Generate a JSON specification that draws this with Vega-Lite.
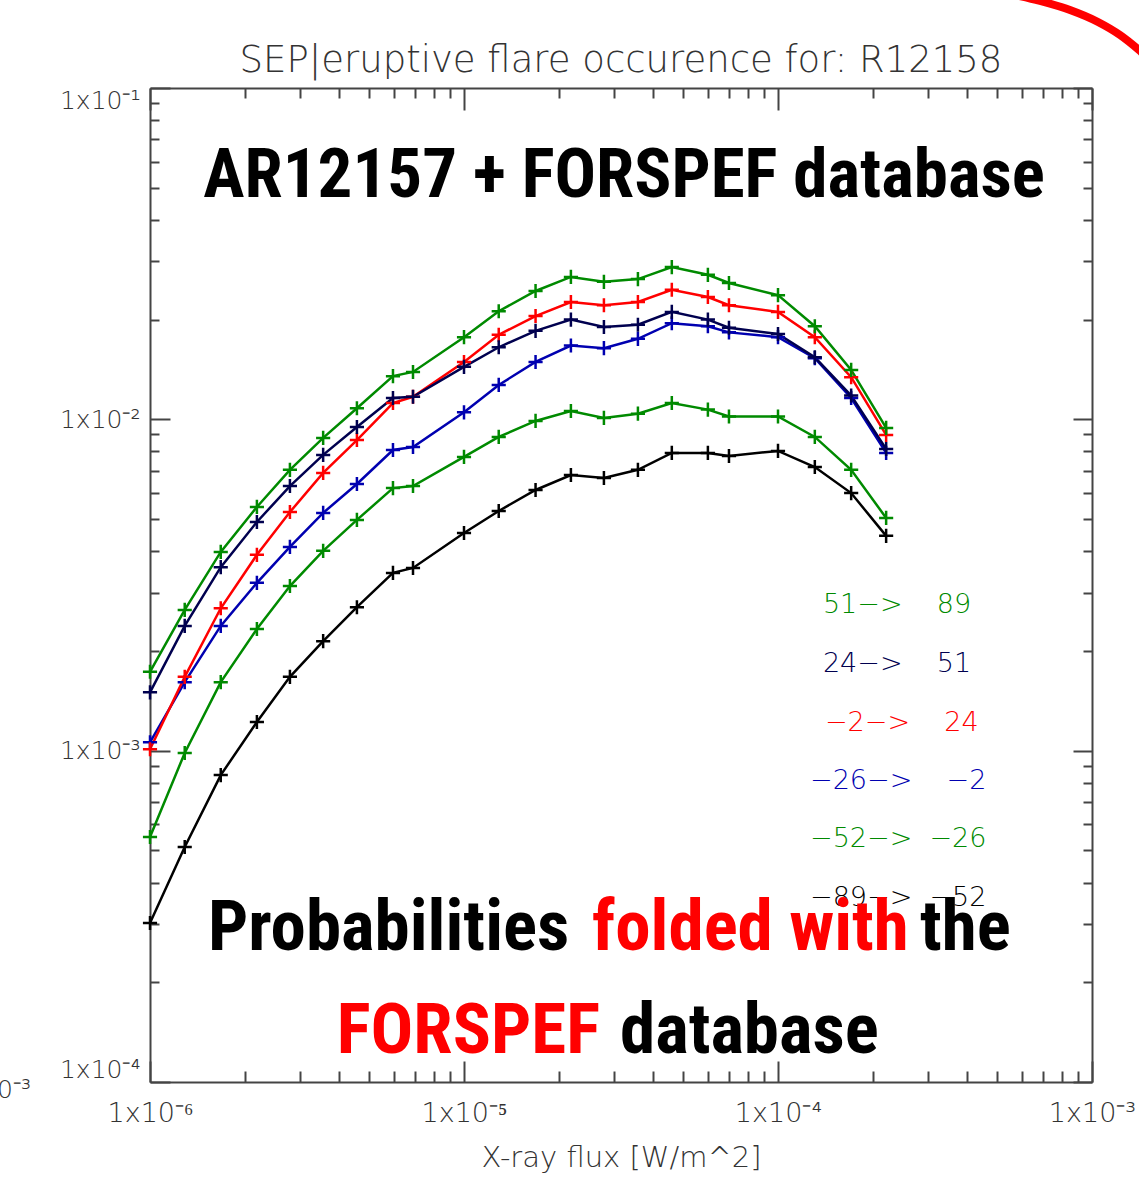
{
  "$schema": "https://vega.github.io/schema/vega-lite/v6.json",
  "width": 942,
  "height": 994,
  "autosize": {"type": "none"},
  "padding": {"left": 150, "top": 88, "right": 47, "bottom": 106},
  "background": "white",
  "config": {
    "view": {"stroke": null},
    "axis": {"grid": false, "domainColor": "#444", "tickColor": "#444", "domainWidth": 2, "tickWidth": 2, "labelFont": "DejaVu Sans", "labelColor": "#333", "labelFontWeight": 200, "titleFont": "DejaVu Sans", "titleColor": "#333", "titleFontWeight": 200}
  },
  "datasets": {
    "series": [
      {"range": "-89->-52", "flux": 1.0e-6, "prob": 3.02e-4},
      {"range": "-89->-52", "flux": 1.29e-6, "prob": 5.12e-4},
      {"range": "-89->-52", "flux": 1.68e-6, "prob": 8.44e-4},
      {"range": "-89->-52", "flux": 2.19e-6, "prob": 1.22e-3},
      {"range": "-89->-52", "flux": 2.79e-6, "prob": 1.67e-3},
      {"range": "-89->-52", "flux": 3.56e-6, "prob": 2.14e-3},
      {"range": "-89->-52", "flux": 4.56e-6, "prob": 2.71e-3},
      {"range": "-89->-52", "flux": 5.94e-6, "prob": 3.44e-3},
      {"range": "-89->-52", "flux": 6.88e-6, "prob": 3.56e-3},
      {"range": "-89->-52", "flux": 1.0e-5, "prob": 4.54e-3},
      {"range": "-89->-52", "flux": 1.29e-5, "prob": 5.29e-3},
      {"range": "-89->-52", "flux": 1.69e-5, "prob": 6.12e-3},
      {"range": "-89->-52", "flux": 2.19e-5, "prob": 6.79e-3},
      {"range": "-89->-52", "flux": 2.79e-5, "prob": 6.65e-3},
      {"range": "-89->-52", "flux": 3.58e-5, "prob": 7.04e-3},
      {"range": "-89->-52", "flux": 4.59e-5, "prob": 7.92e-3},
      {"range": "-89->-52", "flux": 5.98e-5, "prob": 7.92e-3},
      {"range": "-89->-52", "flux": 6.98e-5, "prob": 7.75e-3},
      {"range": "-89->-52", "flux": 1.0e-4, "prob": 8.03e-3},
      {"range": "-89->-52", "flux": 1.31e-4, "prob": 7.18e-3},
      {"range": "-89->-52", "flux": 1.71e-4, "prob": 5.99e-3},
      {"range": "-89->-52", "flux": 2.21e-4, "prob": 4.45e-3},
      {"range": "-52->-26", "flux": 1.0e-6, "prob": 5.49e-4},
      {"range": "-52->-26", "flux": 1.29e-6, "prob": 9.84e-4},
      {"range": "-52->-26", "flux": 1.68e-6, "prob": 1.61e-3},
      {"range": "-52->-26", "flux": 2.19e-6, "prob": 2.33e-3},
      {"range": "-52->-26", "flux": 2.79e-6, "prob": 3.14e-3},
      {"range": "-52->-26", "flux": 3.56e-6, "prob": 4.01e-3},
      {"range": "-52->-26", "flux": 4.56e-6, "prob": 4.97e-3},
      {"range": "-52->-26", "flux": 5.94e-6, "prob": 6.20e-3},
      {"range": "-52->-26", "flux": 6.88e-6, "prob": 6.29e-3},
      {"range": "-52->-26", "flux": 1.0e-5, "prob": 7.70e-3},
      {"range": "-52->-26", "flux": 1.29e-5, "prob": 8.85e-3},
      {"range": "-52->-26", "flux": 1.69e-5, "prob": 9.89e-3},
      {"range": "-52->-26", "flux": 2.19e-5, "prob": 1.06e-2},
      {"range": "-52->-26", "flux": 2.79e-5, "prob": 1.01e-2},
      {"range": "-52->-26", "flux": 3.58e-5, "prob": 1.04e-2},
      {"range": "-52->-26", "flux": 4.59e-5, "prob": 1.12e-2},
      {"range": "-52->-26", "flux": 5.98e-5, "prob": 1.07e-2},
      {"range": "-52->-26", "flux": 6.98e-5, "prob": 1.02e-2},
      {"range": "-52->-26", "flux": 1.0e-4, "prob": 1.02e-2},
      {"range": "-52->-26", "flux": 1.31e-4, "prob": 8.85e-3},
      {"range": "-52->-26", "flux": 1.71e-4, "prob": 7.04e-3},
      {"range": "-52->-26", "flux": 2.21e-4, "prob": 5.04e-3},
      {"range": "-26->-2", "flux": 1.0e-6, "prob": 1.06e-3},
      {"range": "-26->-2", "flux": 1.29e-6, "prob": 1.61e-3},
      {"range": "-26->-2", "flux": 1.68e-6, "prob": 2.38e-3},
      {"range": "-26->-2", "flux": 2.19e-6, "prob": 3.21e-3},
      {"range": "-26->-2", "flux": 2.79e-6, "prob": 4.12e-3},
      {"range": "-26->-2", "flux": 3.56e-6, "prob": 5.22e-3},
      {"range": "-26->-2", "flux": 4.56e-6, "prob": 6.38e-3},
      {"range": "-26->-2", "flux": 5.94e-6, "prob": 8.08e-3},
      {"range": "-26->-2", "flux": 6.88e-6, "prob": 8.25e-3},
      {"range": "-26->-2", "flux": 1.0e-5, "prob": 1.05e-2},
      {"range": "-26->-2", "flux": 1.29e-5, "prob": 1.27e-2},
      {"range": "-26->-2", "flux": 1.69e-5, "prob": 1.49e-2},
      {"range": "-26->-2", "flux": 2.19e-5, "prob": 1.67e-2},
      {"range": "-26->-2", "flux": 2.79e-5, "prob": 1.64e-2},
      {"range": "-26->-2", "flux": 3.58e-5, "prob": 1.75e-2},
      {"range": "-26->-2", "flux": 4.59e-5, "prob": 1.95e-2},
      {"range": "-26->-2", "flux": 5.98e-5, "prob": 1.91e-2},
      {"range": "-26->-2", "flux": 6.98e-5, "prob": 1.83e-2},
      {"range": "-26->-2", "flux": 1.0e-4, "prob": 1.77e-2},
      {"range": "-26->-2", "flux": 1.31e-4, "prob": 1.53e-2},
      {"range": "-26->-2", "flux": 1.71e-4, "prob": 1.16e-2},
      {"range": "-26->-2", "flux": 2.21e-4, "prob": 7.92e-3},
      {"range": "-2->24", "flux": 1.0e-6, "prob": 1.01e-3},
      {"range": "-2->24", "flux": 1.29e-6, "prob": 1.67e-3},
      {"range": "-2->24", "flux": 1.68e-6, "prob": 2.69e-3},
      {"range": "-2->24", "flux": 2.19e-6, "prob": 3.90e-3},
      {"range": "-2->24", "flux": 2.79e-6, "prob": 5.25e-3},
      {"range": "-2->24", "flux": 3.56e-6, "prob": 6.89e-3},
      {"range": "-2->24", "flux": 4.56e-6, "prob": 8.66e-3},
      {"range": "-2->24", "flux": 5.94e-6, "prob": 1.12e-2},
      {"range": "-2->24", "flux": 6.88e-6, "prob": 1.17e-2},
      {"range": "-2->24", "flux": 1.0e-5, "prob": 1.49e-2},
      {"range": "-2->24", "flux": 1.29e-5, "prob": 1.80e-2},
      {"range": "-2->24", "flux": 1.69e-5, "prob": 2.05e-2},
      {"range": "-2->24", "flux": 2.19e-5, "prob": 2.26e-2},
      {"range": "-2->24", "flux": 2.79e-5, "prob": 2.21e-2},
      {"range": "-2->24", "flux": 3.58e-5, "prob": 2.26e-2},
      {"range": "-2->24", "flux": 4.59e-5, "prob": 2.46e-2},
      {"range": "-2->24", "flux": 5.98e-5, "prob": 2.34e-2},
      {"range": "-2->24", "flux": 6.98e-5, "prob": 2.21e-2},
      {"range": "-2->24", "flux": 1.0e-4, "prob": 2.11e-2},
      {"range": "-2->24", "flux": 1.31e-4, "prob": 1.77e-2},
      {"range": "-2->24", "flux": 1.71e-4, "prob": 1.34e-2},
      {"range": "-2->24", "flux": 2.21e-4, "prob": 8.97e-3},
      {"range": "24->51", "flux": 1.0e-6, "prob": 1.50e-3},
      {"range": "24->51", "flux": 1.29e-6, "prob": 2.38e-3},
      {"range": "24->51", "flux": 1.68e-6, "prob": 3.58e-3},
      {"range": "24->51", "flux": 2.19e-6, "prob": 4.90e-3},
      {"range": "24->51", "flux": 2.79e-6, "prob": 6.29e-3},
      {"range": "24->51", "flux": 3.56e-6, "prob": 7.81e-3},
      {"range": "24->51", "flux": 4.56e-6, "prob": 9.48e-3},
      {"range": "24->51", "flux": 5.94e-6, "prob": 1.16e-2},
      {"range": "24->51", "flux": 6.88e-6, "prob": 1.17e-2},
      {"range": "24->51", "flux": 1.0e-5, "prob": 1.44e-2},
      {"range": "24->51", "flux": 1.29e-5, "prob": 1.65e-2},
      {"range": "24->51", "flux": 1.69e-5, "prob": 1.85e-2},
      {"range": "24->51", "flux": 2.19e-5, "prob": 2.00e-2},
      {"range": "24->51", "flux": 2.79e-5, "prob": 1.90e-2},
      {"range": "24->51", "flux": 3.58e-5, "prob": 1.93e-2},
      {"range": "24->51", "flux": 4.59e-5, "prob": 2.11e-2},
      {"range": "24->51", "flux": 5.98e-5, "prob": 2.00e-2},
      {"range": "24->51", "flux": 6.98e-5, "prob": 1.89e-2},
      {"range": "24->51", "flux": 1.0e-4, "prob": 1.81e-2},
      {"range": "24->51", "flux": 1.31e-4, "prob": 1.54e-2},
      {"range": "24->51", "flux": 1.71e-4, "prob": 1.18e-2},
      {"range": "24->51", "flux": 2.21e-4, "prob": 8.14e-3},
      {"range": "51->89", "flux": 1.0e-6, "prob": 1.73e-3},
      {"range": "51->89", "flux": 1.29e-6, "prob": 2.66e-3},
      {"range": "51->89", "flux": 1.68e-6, "prob": 3.98e-3},
      {"range": "51->89", "flux": 2.19e-6, "prob": 5.44e-3},
      {"range": "51->89", "flux": 2.79e-6, "prob": 7.04e-3},
      {"range": "51->89", "flux": 3.56e-6, "prob": 8.79e-3},
      {"range": "51->89", "flux": 4.56e-6, "prob": 1.08e-2},
      {"range": "51->89", "flux": 5.94e-6, "prob": 1.35e-2},
      {"range": "51->89", "flux": 6.88e-6, "prob": 1.39e-2},
      {"range": "51->89", "flux": 1.0e-5, "prob": 1.77e-2},
      {"range": "51->89", "flux": 1.29e-5, "prob": 2.12e-2},
      {"range": "51->89", "flux": 1.69e-5, "prob": 2.44e-2},
      {"range": "51->89", "flux": 2.19e-5, "prob": 2.69e-2},
      {"range": "51->89", "flux": 2.79e-5, "prob": 2.60e-2},
      {"range": "51->89", "flux": 3.58e-5, "prob": 2.65e-2},
      {"range": "51->89", "flux": 4.59e-5, "prob": 2.88e-2},
      {"range": "51->89", "flux": 5.98e-5, "prob": 2.73e-2},
      {"range": "51->89", "flux": 6.98e-5, "prob": 2.58e-2},
      {"range": "51->89", "flux": 1.0e-4, "prob": 2.37e-2},
      {"range": "51->89", "flux": 1.31e-4, "prob": 1.91e-2},
      {"range": "51->89", "flux": 1.71e-4, "prob": 1.41e-2},
      {"range": "51->89", "flux": 2.21e-4, "prob": 9.42e-3}
    ],
    "legend": [
      {"range": "51->89", "label": "51−>\u00a0\u00a0\u00a0\u00a089", "flux": 1.39e-4, "prob": 2.752e-3},
      {"range": "24->51", "label": "24−>\u00a0\u00a0\u00a0\u00a051", "flux": 1.39e-4, "prob": 1.826e-3},
      {"range": "-2->24", "label": "−2−>\u00a0\u00a0\u00a0\u00a024", "flux": 1.411e-4, "prob": 1.212e-3},
      {"range": "-26->-2", "label": "−26−>\u00a0\u00a0\u00a0\u00a0−2", "flux": 1.265e-4, "prob": 8.098e-4},
      {"range": "-52->-26", "label": "−52−>\u00a0\u00a0−26", "flux": 1.265e-4, "prob": 5.411e-4},
      {"range": "-89->-52", "label": "−89−>\u00a0\u00a0−52", "flux": 1.265e-4, "prob": 3.592e-4}
    ],
    "notes": [
      {"kind": "center", "text": "AR12157 + FORSPEF database", "emphasis": "plain", "flux": 3.233e-5, "prob": 4.688e-2},
      {"kind": "left", "text": "Probabilities", "emphasis": "plain", "flux": 1.53e-6, "prob": 2.503e-4},
      {"kind": "left", "text": "folded with", "emphasis": "highlight", "flux": 2.556e-5, "prob": 2.503e-4},
      {"kind": "left", "text": "the", "emphasis": "plain", "flux": 2.834e-4, "prob": 2.503e-4},
      {"kind": "right", "text": "FORSPEF", "emphasis": "highlight", "flux": 2.71e-5, "prob": 1.223e-4},
      {"kind": "left", "text": "database", "emphasis": "plain", "flux": 3.139e-5, "prob": 1.223e-4}
    ],
    "heading": [
      {"text": "SEP|eruptive flare occurence for: R12158", "flux": 3.162e-5, "prob": 0.1118}
    ],
    "arc": [
      {"flux": 5.482e-4, "prob": 0.1922},
      {"flux": 6.832e-4, "prob": 0.1831},
      {"flux": 8.509e-4, "prob": 0.1719},
      {"flux": 1.045e-3, "prob": 0.1582},
      {"flux": 1.228e-3, "prob": 0.1445},
      {"flux": 1.411e-3, "prob": 0.1302},
      {"flux": 1.53e-3, "prob": 0.1215}
    ],
    "fragment": [
      {"text": "1x10⁻³", "flux": 4.178e-7, "prob": 9.458e-5}
    ]
  },
  "resolve": {"axis": {"x": "independent", "y": "independent"}, "scale": {"color": "independent"}},
  "layer": [
    {
      "data": {"name": "series"},
      "mark": {"type": "line", "strokeWidth": 2.5, "point": {"shape": "M-1,0H1M0,-1V1", "filled": false, "size": 200, "strokeWidth": 2.5}},
      "encoding": {
        "x": {"field": "flux", "type": "quantitative", "scale": {"type": "log", "domain": [1e-6, 1e-3], "nice": false},
          "axis": {"orient": "bottom", "values": [1e-6, 1e-5, 1e-4, 1e-3], "ticks": false, "domain": true, "labelFlush": false, "labelOverlap": false, "labelFontSize": 27, "labelPadding": 18,
            "labelExpr": "'1x10⁻' + ['⁰','¹','²','³','⁴','⁵','⁶','⁷'][round(-log(datum.value)/LN10)]",
            "title": "X-ray flux [W/m^2]", "titleFontSize": 29, "titlePadding": 17}},
        "y": {"field": "prob", "type": "quantitative", "scale": {"type": "log", "domain": [1e-4, 1e-1], "nice": false},
          "axis": {"orient": "left", "values": [1e-4, 1e-3, 1e-2, 1e-1], "ticks": false, "domain": true, "labelFlush": true, "labelOverlap": false, "labelFontSize": 25, "labelPadding": 10,
            "labelExpr": "'1x10⁻' + ['⁰','¹','²','³','⁴','⁵','⁶','⁷'][round(-log(datum.value)/LN10)]",
            "title": null}},
        "color": {"field": "range", "type": "nominal", "legend": null,
          "scale": {"domain": ["51->89", "24->51", "-2->24", "-26->-2", "-52->-26", "-89->-52"], "range": ["#008a00", "#00004f", "#ff0000", "#0000b0", "#008a00", "#000000"]}}
      }
    },
    {
      "data": {"name": "legend"},
      "mark": {"type": "text", "align": "left", "baseline": "middle", "font": "DejaVu Sans", "fontSize": 27, "fontWeight": 200},
      "encoding": {
        "x": {"field": "flux", "type": "quantitative", "scale": {"type": "log", "domain": [1e-6, 1e-3], "nice": false},
          "axis": {"orient": "bottom", "values": [1e-6, 1e-5, 1e-4, 1e-3], "labels": false, "domain": false, "tickSize": -21, "title": null}},
        "y": {"field": "prob", "type": "quantitative", "scale": {"type": "log", "domain": [1e-4, 1e-1], "nice": false},
          "axis": {"orient": "left", "values": [1e-4, 1e-3, 1e-2, 1e-1], "labels": false, "domain": false, "tickSize": -20, "title": null}},
        "text": {"field": "label"},
        "color": {"field": "range", "type": "nominal", "legend": null,
          "scale": {"domain": ["51->89", "24->51", "-2->24", "-26->-2", "-52->-26", "-89->-52"], "range": ["#008a00", "#00004f", "#ff0000", "#0000b0", "#008a00", "#000000"]}}
      }
    },
    {
      "data": {"name": "notes"},
      "transform": [{"filter": "datum.kind == 'left'"}],
      "mark": {"type": "text", "align": "left", "baseline": "alphabetic", "font": "'Roboto Condensed', 'DejaVu Sans Condensed', sans-serif", "fontWeight": "bold", "fontSize": 71},
      "encoding": {
        "x": {"field": "flux", "type": "quantitative", "scale": {"type": "log", "domain": [1e-6, 1e-3], "nice": false},
          "axis": {"orient": "bottom", "values": [2e-6, 3e-6, 4e-6, 5e-6, 6e-6, 7e-6, 8e-6, 9e-6, 2e-5, 3e-5, 4e-5, 5e-5, 6e-5, 7e-5, 8e-5, 9e-5, 2e-4, 3e-4, 4e-4, 5e-4, 6e-4, 7e-4, 8e-4, 9e-4], "labels": false, "domain": false, "tickSize": -11, "title": null}},
        "y": {"field": "prob", "type": "quantitative", "scale": {"type": "log", "domain": [1e-4, 1e-1], "nice": false},
          "axis": {"orient": "left", "values": [2e-4, 3e-4, 4e-4, 5e-4, 6e-4, 7e-4, 8e-4, 9e-4, 2e-3, 3e-3, 4e-3, 5e-3, 6e-3, 7e-3, 8e-3, 9e-3, 2e-2, 3e-2, 4e-2, 5e-2, 6e-2, 7e-2, 8e-2, 9e-2], "labels": false, "domain": false, "tickSize": -9, "title": null}},
        "text": {"field": "text"},
        "color": {"field": "emphasis", "type": "nominal", "legend": null, "scale": {"domain": ["plain", "highlight"], "range": ["#000000", "#ff0000"]}}
      }
    },
    {
      "data": {"name": "arc"},
      "mark": {"type": "line", "color": "#ff0000", "strokeWidth": 8, "interpolate": "monotone", "clip": false},
      "encoding": {
        "x": {"field": "flux", "type": "quantitative", "scale": {"type": "log", "domain": [1e-6, 1e-3], "nice": false},
          "axis": {"orient": "top", "values": [1e-6, 1e-5, 1e-4, 1e-3], "labels": false, "domain": true, "tickSize": -22, "title": null}},
        "y": {"field": "prob", "type": "quantitative", "scale": {"type": "log", "domain": [1e-4, 1e-1], "nice": false},
          "axis": {"orient": "right", "values": [1e-4, 1e-3, 1e-2, 1e-1], "labels": false, "domain": true, "tickSize": -19, "title": null}}
      }
    },
    {
      "data": {"name": "notes"},
      "transform": [{"filter": "datum.kind == 'right'"}],
      "mark": {"type": "text", "align": "right", "baseline": "alphabetic", "font": "'Roboto Condensed', 'DejaVu Sans Condensed', sans-serif", "fontWeight": "bold", "fontSize": 71},
      "encoding": {
        "x": {"field": "flux", "type": "quantitative", "scale": {"type": "log", "domain": [1e-6, 1e-3], "nice": false},
          "axis": {"orient": "top", "values": [2e-6, 3e-6, 4e-6, 5e-6, 6e-6, 7e-6, 8e-6, 9e-6, 2e-5, 3e-5, 4e-5, 5e-5, 6e-5, 7e-5, 8e-5, 9e-5, 2e-4, 3e-4, 4e-4, 5e-4, 6e-4, 7e-4, 8e-4, 9e-4], "labels": false, "domain": false, "tickSize": -10, "title": null}},
        "y": {"field": "prob", "type": "quantitative", "scale": {"type": "log", "domain": [1e-4, 1e-1], "nice": false},
          "axis": {"orient": "right", "values": [2e-4, 3e-4, 4e-4, 5e-4, 6e-4, 7e-4, 8e-4, 9e-4, 2e-3, 3e-3, 4e-3, 5e-3, 6e-3, 7e-3, 8e-3, 9e-3, 2e-2, 3e-2, 4e-2, 5e-2, 6e-2, 7e-2, 8e-2, 9e-2], "labels": false, "domain": false, "tickSize": -9, "title": null}},
        "text": {"field": "text"},
        "color": {"field": "emphasis", "type": "nominal", "legend": null, "scale": {"domain": ["plain", "highlight"], "range": ["#000000", "#ff0000"]}}
      }
    },
    {
      "data": {"name": "notes"},
      "transform": [{"filter": "datum.kind == 'center'"}],
      "mark": {"type": "text", "align": "center", "baseline": "alphabetic", "font": "'Roboto Condensed', 'DejaVu Sans Condensed', sans-serif", "fontWeight": "bold", "fontSize": 69, "color": "#000000"},
      "encoding": {
        "x": {"field": "flux", "type": "quantitative", "scale": {"type": "log", "domain": [1e-6, 1e-3], "nice": false}, "axis": null},
        "y": {"field": "prob", "type": "quantitative", "scale": {"type": "log", "domain": [1e-4, 1e-1], "nice": false}, "axis": null},
        "text": {"field": "text"}
      }
    },
    {
      "data": {"name": "heading"},
      "mark": {"type": "text", "align": "center", "baseline": "alphabetic", "font": "DejaVu Sans", "fontSize": 37, "fontWeight": 200, "color": "#333"},
      "encoding": {
        "x": {"field": "flux", "type": "quantitative", "scale": {"type": "log", "domain": [1e-6, 1e-3], "nice": false}, "axis": null},
        "y": {"field": "prob", "type": "quantitative", "scale": {"type": "log", "domain": [1e-4, 1e-1], "nice": false}, "axis": null},
        "text": {"field": "text"}
      }
    },
    {
      "data": {"name": "fragment"},
      "mark": {"type": "text", "align": "right", "baseline": "middle", "font": "DejaVu Sans", "fontSize": 25, "fontWeight": 200, "color": "#333"},
      "encoding": {
        "x": {"field": "flux", "type": "quantitative", "scale": {"type": "log", "domain": [1e-6, 1e-3], "nice": false}, "axis": null},
        "y": {"field": "prob", "type": "quantitative", "scale": {"type": "log", "domain": [1e-4, 1e-1], "nice": false}, "axis": null},
        "text": {"field": "text"}
      }
    }
  ]
}
